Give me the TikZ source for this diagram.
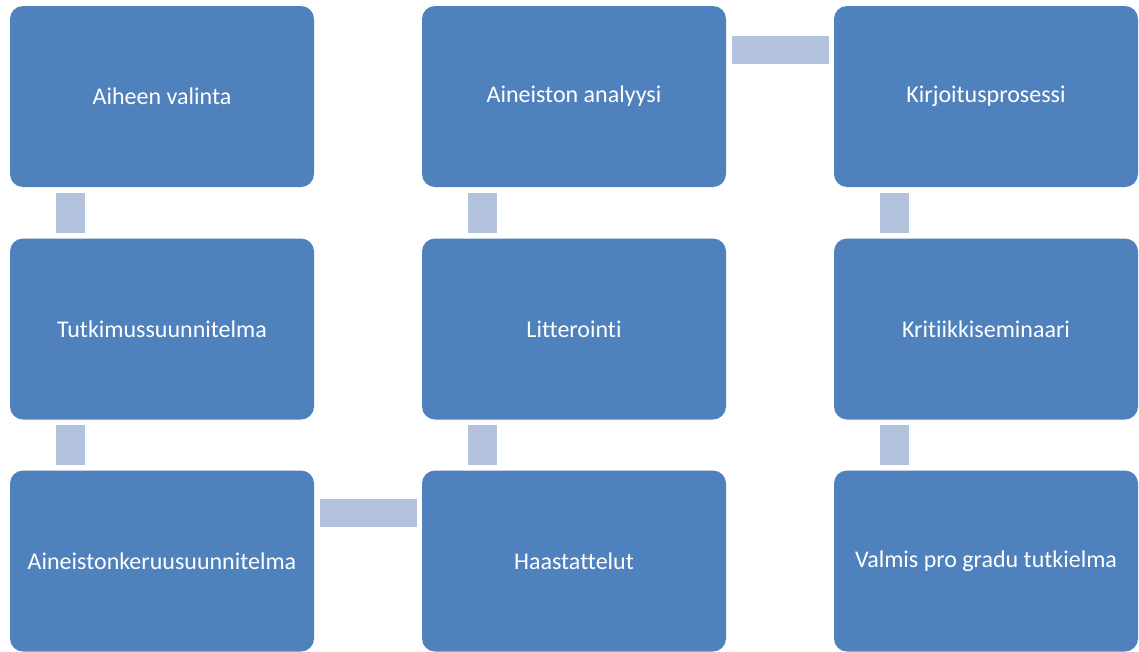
\documentclass[tikz,border=0pt]{standalone}
\usepackage{fontspec}
\setmainfont{Carlito}[Ligatures=NoCommon]
\usetikzlibrary{calc}
\definecolor{boxblue}{HTML}{4F81BD}
\definecolor{connblue}{HTML}{B3C3DE}
\tikzset{
  stepbox/.style={rectangle, rounded corners=13pt, fill=boxblue, draw=none,
    minimum width=304pt, minimum height=181pt, inner sep=0pt,
    text=white, font=\fontsize{24}{28}\selectfont},
  vconn/.style={rectangle, fill=connblue, draw=none, minimum width=29pt, minimum height=40pt, inner sep=0pt},
  hconn/.style={rectangle, fill=connblue, draw=none, minimum width=97pt, minimum height=28pt, inner sep=0pt}
}
\begin{document}
\begin{tikzpicture}[x=1pt,y=-1pt]
\useasboundingbox (0,0) rectangle (1139,651);
\node[stepbox] (a) at (162,96.5) {Aiheen valinta};
\node[stepbox] (b) at (162,329) {Tutkimussuunnitelma};
\node[stepbox] (c) at (162,561) {Aineistonkeruusuunnitelma};
\node[stepbox] (d) at (574,561) {Haastattelut};
\node[stepbox] (e) at (574,329) {Litterointi};
\node[stepbox] (f) at (574,96.5) {Aineiston analyysi};
\node[stepbox] (g) at (986,96.5) {Kirjoitusprosessi};
\node[stepbox] (h) at (986,329) {Kritiikkiseminaari};
\node[stepbox] (i) at (986,561) {Valmis pro gradu tutkielma};
% connectors
\node[vconn] (ab) at ($(a.south west)!0.5!(b.north west) + (60.5,0)$) {};
\node[vconn] (bc) at ($(b.south west)!0.5!(c.north west) + (60.5,0)$) {};
\node[hconn] (cd) at ($(c.north east)!0.5!(d.north west) + (0,43)$) {};
\node[vconn] (de) at ($(e.south west)!0.5!(d.north west) + (60.5,0)$) {};
\node[vconn] (ef) at ($(f.south west)!0.5!(e.north west) + (60.5,0)$) {};
\node[hconn] (fg) at ($(f.north east)!0.5!(g.north west) + (0,44)$) {};
\node[vconn] (gh) at ($(g.south west)!0.5!(h.north west) + (60.5,0)$) {};
\node[vconn] (hi) at ($(h.south west)!0.5!(i.north west) + (60.5,0)$) {};
\end{tikzpicture}
\end{document}
